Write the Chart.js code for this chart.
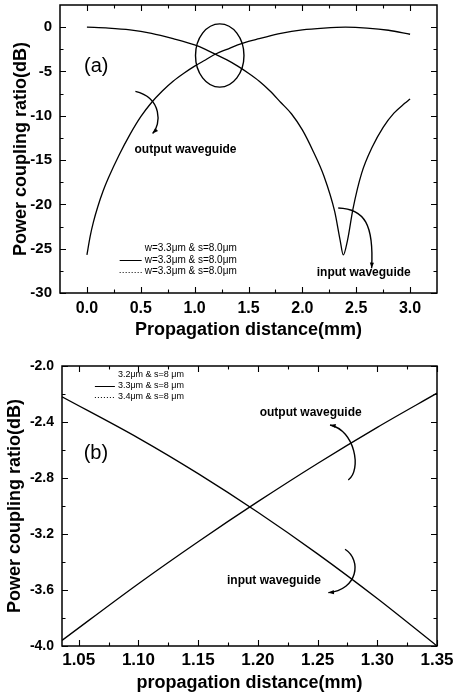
<!DOCTYPE html>
<html>
<head>
<meta charset="utf-8">
<script src="https://cdn.jsdelivr.net/npm/chart.js@4.4.1/dist/chart.umd.min.js"></script>
<style>
  body { margin: 0; background: #fff; }
  canvas { display: block; }
</style>
</head>
<body>
<canvas id="chartA" width="454" height="350"></canvas>
<canvas id="chartB" width="454" height="350"></canvas>
<script>
// panel (a): propagation distance (mm) vs coupling ratio (dB)
var inputXA = [0, 0.2, 0.4, 0.6, 0.8, 1.0, 1.1, 1.2, 1.3, 1.4, 1.5, 1.6, 1.7, 1.8, 1.9, 2.0, 2.1, 2.2, 2.3, 2.35, 2.38, 2.42, 2.47, 2.55, 2.65, 2.75, 2.85, 2.95, 3.0];
var inputYA = [0, -0.1, -0.3, -0.7, -1.3, -2.0, -2.5, -3.1, -3.7, -4.4, -5.2, -6.1, -7.2, -8.5, -9.8, -11.6, -14.0, -16.8, -20.8, -24.0, -25.7, -24.0, -20.5, -16.5, -13.5, -11.3, -9.7, -8.6, -8.1];
var outputXA = [0, 0.03, 0.06, 0.1, 0.15, 0.2, 0.3, 0.4, 0.5, 0.6, 0.7, 0.8, 0.9, 1.0, 1.1, 1.2, 1.3, 1.4, 1.5, 1.6, 1.8, 2.0, 2.2, 2.4, 2.6, 2.8, 3.0];
var outputYA = [-25.7, -23.6, -22.0, -20.3, -18.5, -17.0, -14.4, -12.1, -10.1, -8.5, -7.2, -6.1, -5.2, -4.4, -3.7, -3.0, -2.5, -2.0, -1.6, -1.3, -0.7, -0.3, -0.1, 0, -0.1, -0.35, -0.8];
var xTicksA = [0, 0.5, 1.0, 1.5, 2.0, 2.5, 3.0];
var yTicksA = [-30, -25, -20, -15, -10, -5, 0];
var legendA = ['w=3.3\u03bcm & s=8.0\u03bcm', 'w=3.3\u03bcm & s=8.0\u03bcm', 'w=3.3\u03bcm & s=8.0\u03bcm'];

// panel (b): zoom on the crossing point
var distB = [1.036, 1.10, 1.15, 1.20, 1.25, 1.30, 1.35];
var inputB = [-2.22, -2.515, -2.769, -3.045, -3.342, -3.661, -4.0];
var outputB = [-3.96, -3.555, -3.255, -2.969, -2.696, -2.438, -2.194];
var xTicksB = [1.05, 1.10, 1.15, 1.20, 1.25, 1.30, 1.35];
var yTicksB = [-4.0, -3.6, -3.2, -2.8, -2.4, -2.0];
var legendB = ['3.2\u03bcm & s=8 \u03bcm', '3.3\u03bcm & s=8 \u03bcm', '3.4\u03bcm & s=8 \u03bcm'];

var FONT = "'Liberation Sans', Arial, sans-serif";

function pairs(xs, ys) {
    return xs.map(function (x, i) { return { x: x, y: ys[i] }; });
}

// box frame plus inward major/minor ticks on all four sides
var frameTicks = {
    id: 'frameTicks',
    afterDatasetsDraw: function (chart) {
        var ctx = chart.ctx, a = chart.chartArea;
        var xs = chart.scales.x, ys = chart.scales.y;
        ctx.save();
        ctx.strokeStyle = '#000';
        ctx.lineWidth = 1.5;
        ctx.strokeRect(a.left, a.top, a.right - a.left, a.bottom - a.top);
        ctx.lineWidth = 1.1;

        function marks(scale) {
            var t = scale.ticks.map(function (k) { return k.value; });
            var step = t[1] - t[0];
            var out = t.map(function (v) { return [v, 6]; });
            for (var v = t[0] - step / 2; v < scale.max; v += step) {
                if (v > scale.min + step * 0.05 && v < scale.max - step * 0.05) out.push([v, 3.5]);
            }
            return out;
        }
        ctx.beginPath();
        marks(xs).forEach(function (m) {
            var p = Math.round(xs.getPixelForValue(m[0])) + 0.5;
            ctx.moveTo(p, a.bottom); ctx.lineTo(p, a.bottom - m[1]);
            ctx.moveTo(p, a.top); ctx.lineTo(p, a.top + m[1]);
        });
        marks(ys).forEach(function (m) {
            var p = Math.round(ys.getPixelForValue(m[0])) + 0.5;
            ctx.moveTo(a.left, p); ctx.lineTo(a.left + m[1], p);
            ctx.moveTo(a.right, p); ctx.lineTo(a.right - m[1], p);
        });
        ctx.stroke();
        ctx.restore();
    }
};

// legend, labels, ellipse and curved arrows placed in data space
var notes = {
    id: 'notes',
    afterDatasetsDraw: function (chart, args, opts) {
        var ctx = chart.ctx;
        var xs = chart.scales.x, ys = chart.scales.y;
        function P(pt) { return [xs.getPixelForValue(pt[0]), ys.getPixelForValue(pt[1])]; }
        ctx.save();
        ctx.fillStyle = '#000';
        ctx.strokeStyle = '#000';

        (opts.texts || []).forEach(function (t) {
            var p = P([t.x, t.y]);
            ctx.font = t.font;
            ctx.textAlign = 'center';
            ctx.textBaseline = 'middle';
            ctx.fillText(t.text, p[0], p[1]);
        });

        if (opts.ellipse) {
            var e = opts.ellipse, c = P([e.x, e.y]);
            var rx = Math.abs(xs.getPixelForValue(e.x + e.rx) - c[0]);
            var ry = Math.abs(ys.getPixelForValue(e.y + e.ry) - c[1]);
            ctx.lineWidth = 1.4;
            ctx.beginPath();
            ctx.ellipse(c[0], c[1], rx, ry, 0, 0, Math.PI * 2);
            ctx.stroke();
        }

        (opts.arrows || []).forEach(function (ar) {
            var p = ar.pts.map(P);
            ctx.lineWidth = 1.4;
            ctx.beginPath();
            ctx.moveTo(p[0][0], p[0][1]);
            ctx.bezierCurveTo(p[1][0], p[1][1], p[2][0], p[2][1], p[3][0], p[3][1]);
            ctx.stroke();
            var tip = ar.head === 'start' ? p[0] : p[3];
            var from = ar.head === 'start' ? p[1] : p[2];
            var ang = Math.atan2(tip[1] - from[1], tip[0] - from[0]);
            ctx.beginPath();
            ctx.moveTo(tip[0], tip[1]);
            ctx.lineTo(tip[0] - 6 * Math.cos(ang - 0.35), tip[1] - 6 * Math.sin(ang - 0.35));
            ctx.lineTo(tip[0] - 6 * Math.cos(ang + 0.35), tip[1] - 6 * Math.sin(ang + 0.35));
            ctx.closePath();
            ctx.fill();
        });

        if (opts.legend) {
            var lg = opts.legend, o = P([lg.x, lg.y]);
            ctx.font = lg.font;
            ctx.textAlign = 'left';
            ctx.textBaseline = 'middle';
            lg.labels.forEach(function (label, i) {
                var y = o[1] + i * lg.gap;
                ctx.fillText(label, o[0], y);
                var dash = lg.dashes[i];
                if (dash) {
                    ctx.lineWidth = 1;
                    ctx.setLineDash(dash);
                    ctx.beginPath();
                    ctx.moveTo(o[0] - lg.sample - 3, Math.round(y) + 0.5);
                    ctx.lineTo(o[0] - 3, Math.round(y) + 0.5);
                    ctx.stroke();
                    ctx.setLineDash([]);
                }
            });
        }
        ctx.restore();
    }
};

function buildChart(id, cfg) {
    var ctx = document.getElementById(id).getContext('2d');
    return new Chart(ctx, {
        type: 'line',
        data: {
            datasets: [{
                label: 'input waveguide',
                data: cfg.input,
                borderColor: '#000',
                borderWidth: 1.3,
                pointRadius: 0,
                cubicInterpolationMode: 'monotone'
            }, {
                label: 'output waveguide',
                data: cfg.output,
                borderColor: '#000',
                borderWidth: 1.3,
                pointRadius: 0,
                cubicInterpolationMode: 'monotone'
            }]
        },
        options: {
            responsive: false,
            animation: false,
            layout: { padding: { top: cfg.padTop, right: 17, left: 0, bottom: 0 } },
            plugins: {
                legend: { display: false },
                tooltip: { enabled: false },
                notes: cfg.notes
            },
            scales: {
                x: {
                    type: 'linear',
                    min: cfg.xMin,
                    max: cfg.xMax,
                    afterBuildTicks: function (s) { s.ticks = cfg.xTicks.map(function (v) { return { value: v }; }); },
                    afterFit: function (s) { s.height = cfg.xHeight; s.paddingLeft = 0; s.paddingRight = 0; },
                    grid: { display: false, drawTicks: false },
                    border: { display: false },
                    ticks: {
                        padding: cfg.xTickPad,
                        color: '#000',
                        maxRotation: 0,
                        autoSkip: false,
                        font: { family: FONT, size: cfg.xTickSize, weight: 'bold' },
                        callback: function (v) { return v.toFixed(cfg.xDec); }
                    },
                    title: {
                        display: true,
                        text: cfg.xTitle,
                        color: '#000',
                        font: { family: FONT, size: 18, weight: 'bold' },
                        padding: { top: 0, bottom: cfg.xTitlePad }
                    }
                },
                y: {
                    type: 'linear',
                    min: cfg.yMin,
                    max: cfg.yMax,
                    afterBuildTicks: function (s) { s.ticks = cfg.yTicks.map(function (v) { return { value: v }; }); },
                    afterFit: function (s) { s.width = cfg.yWidth; s.paddingTop = 0; s.paddingBottom = 0; },
                    grid: { display: false, drawTicks: false },
                    border: { display: false },
                    ticks: {
                        padding: 8,
                        color: '#000',
                        autoSkip: false,
                        font: { family: FONT, size: cfg.yTickSize, weight: 'bold' },
                        callback: function (v) { return cfg.yDec ? v.toFixed(cfg.yDec) : String(v); }
                    },
                    title: {
                        display: true,
                        text: 'Power coupling ratio(dB)',
                        color: '#000',
                        font: { family: FONT, size: 18, weight: 'bold' },
                        padding: { top: cfg.yTitlePad, bottom: 0 }
                    }
                }
            }
        },
        plugins: [frameTicks, notes]
    });
}

buildChart('chartA', {
    input: pairs(inputXA, inputYA),
    output: pairs(outputXA, outputYA),
    xMin: -0.25, xMax: 3.25, yMin: -30, yMax: 2.5,
    xTicks: xTicksA, yTicks: yTicksA, xDec: 1, yDec: 0,
    padTop: 5, xHeight: 57, yWidth: 60,
    xTickPad: 6, xTickSize: 16, yTickSize: 15,
    xTitle: 'Propagation distance(mm)', xTitlePad: 9, yTitlePad: 10,
    notes: {
        texts: [
            { text: '(a)', x: 0.087, y: -4.4, font: '20px ' + FONT },
            { text: 'output waveguide', x: 0.915, y: -13.84, font: 'bold 12px ' + FONT },
            { text: 'input waveguide', x: 2.57, y: -27.7, font: 'bold 12px ' + FONT }
        ],
        ellipse: { x: 1.233, y: -3.2, rx: 0.225, ry: 3.57 },
        arrows: [
            { pts: [[0.45, -7.25], [0.70, -8.0], [0.69, -11.0], [0.61, -12.0]], head: 'end' },
            { pts: [[2.333, -20.4], [2.58, -20.5], [2.665, -22.3], [2.643, -27.2]], head: 'end' }
        ],
        legend: { x: 0.536, y: -25.0, gap: 11.5, sample: 22, font: '10px ' + FONT, labels: legendA, dashes: [null, [], [1, 2]] }
    }
});

buildChart('chartB', {
    input: pairs(distB, inputB),
    output: pairs(distB, outputB),
    xMin: 1.036, xMax: 1.35, yMin: -4.0, yMax: -2.0,
    xTicks: xTicksB, yTicks: yTicksB, xDec: 2, yDec: 1,
    padTop: 16, xHeight: 54, yWidth: 62,
    xTickPad: 4, xTickSize: 17, yTickSize: 14,
    xTitle: 'propagation distance(mm)', xTitlePad: 6, yTitlePad: 4,
    notes: {
        texts: [
            { text: '(b)', x: 1.0644, y: -2.626, font: '20px ' + FONT },
            { text: 'output waveguide', x: 1.2442, y: -2.331, font: 'bold 12px ' + FONT },
            { text: 'input waveguide', x: 1.2135, y: -3.536, font: 'bold 12px ' + FONT }
        ],
        arrows: [
            { pts: [[1.2604, -2.421], [1.2813, -2.457], [1.2872, -2.743], [1.2757, -2.814]], head: 'start' },
            { pts: [[1.273, -3.309], [1.2872, -3.386], [1.2838, -3.6], [1.259, -3.619]], head: 'end' }
        ],
        legend: { x: 1.0828, y: -2.059, gap: 11.3, sample: 20, font: '9px ' + FONT, labels: legendB, dashes: [null, [], [1, 2]] }
    }
});
</script>
</body>
</html>
